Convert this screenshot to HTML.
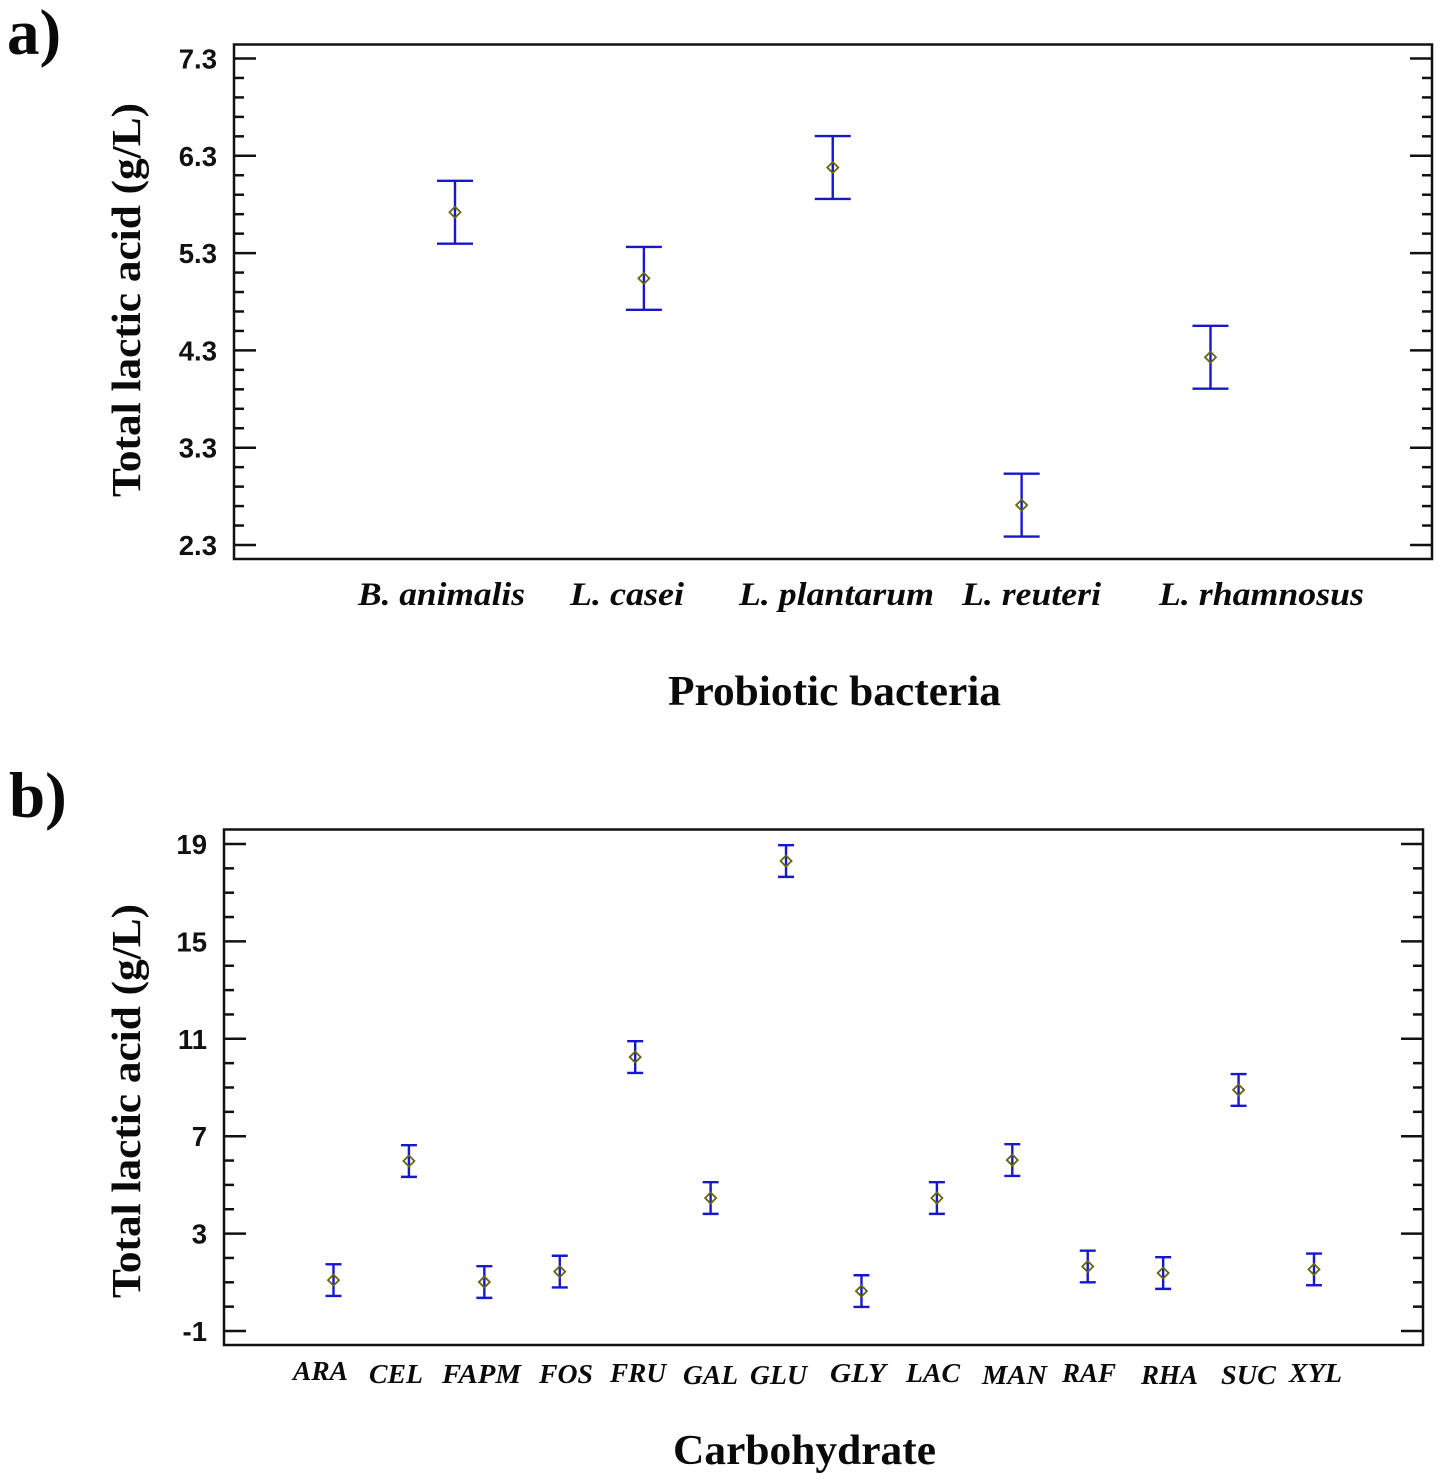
<!DOCTYPE html>
<html lang="en">
<head>
<meta charset="utf-8">
<title>Total lactic acid by probiotic bacteria and carbohydrate</title>
<style>
html,body{margin:0;padding:0;background:#fff;}
svg{display:block;}
.ser{font-family:"Liberation Serif",serif;font-weight:bold;fill:#0a0a0a;}
.ital{font-style:italic;}
.tick{font-family:"Liberation Sans",sans-serif;font-weight:bold;font-size:27.5px;fill:#111;text-anchor:end;}
</style>
</head>
<body>
<svg id="figure" xmlns="http://www.w3.org/2000/svg" width="1441" height="1482" viewBox="0 0 1441 1482">
  <rect x="0" y="0" width="1441" height="1482" fill="#fff"/>

  <text class="ser" x="7" y="54" font-size="65">a)</text>
  <text class="ser" x="9" y="817" font-size="65">b)</text>

  <rect x="234" y="44.5" width="1198" height="514.5" fill="none" stroke="#111" stroke-width="2.5"/>
  <rect x="224" y="829.5" width="1199" height="515.5" fill="none" stroke="#111" stroke-width="2.5"/>

  <g id="panel-a-marks"></g>
  <g id="panel-b-marks"></g>

  <text class="ser" transform="translate(140 300) rotate(-90)" text-anchor="middle" font-size="41" textLength="394" lengthAdjust="spacingAndGlyphs">Total lactic acid (g/L)</text>
  <text class="ser" transform="translate(140 1101) rotate(-90)" text-anchor="middle" font-size="41" textLength="394" lengthAdjust="spacingAndGlyphs">Total lactic acid (g/L)</text>

  <text class="ser" x="668" y="705" font-size="42" textLength="333" lengthAdjust="spacingAndGlyphs">Probiotic bacteria</text>
  <text class="ser" x="673" y="1464" font-size="42" textLength="263" lengthAdjust="spacingAndGlyphs">Carbohydrate</text>

  <g class="ser ital" font-size="33">
    <text x="358" y="605" textLength="167" lengthAdjust="spacingAndGlyphs">B. animalis</text>
    <text x="570" y="605" textLength="114" lengthAdjust="spacingAndGlyphs">L. casei</text>
    <text x="739" y="605" textLength="195" lengthAdjust="spacingAndGlyphs">L. plantarum</text>
    <text x="962" y="605" textLength="139" lengthAdjust="spacingAndGlyphs">L. reuteri</text>
    <text x="1159" y="605" textLength="205" lengthAdjust="spacingAndGlyphs">L. rhamnosus</text>
  </g>

  <g class="ser ital" font-size="27">
    <text x="293" y="1380" textLength="55" lengthAdjust="spacingAndGlyphs">ARA</text>
    <text x="369" y="1383" textLength="54" lengthAdjust="spacingAndGlyphs">CEL</text>
    <text x="442" y="1383" textLength="79" lengthAdjust="spacingAndGlyphs">FAPM</text>
    <text x="539" y="1383" textLength="54" lengthAdjust="spacingAndGlyphs">FOS</text>
    <text x="610" y="1382" textLength="56" lengthAdjust="spacingAndGlyphs">FRU</text>
    <text x="683" y="1384" textLength="55" lengthAdjust="spacingAndGlyphs">GAL</text>
    <text x="750" y="1384" textLength="57" lengthAdjust="spacingAndGlyphs">GLU</text>
    <text x="830" y="1382" textLength="56" lengthAdjust="spacingAndGlyphs">GLY</text>
    <text x="906" y="1382" textLength="54" lengthAdjust="spacingAndGlyphs">LAC</text>
    <text x="982" y="1384" textLength="65" lengthAdjust="spacingAndGlyphs">MAN</text>
    <text x="1062" y="1382" textLength="54" lengthAdjust="spacingAndGlyphs">RAF</text>
    <text x="1141" y="1384" textLength="57" lengthAdjust="spacingAndGlyphs">RHA</text>
    <text x="1221" y="1384" textLength="55" lengthAdjust="spacingAndGlyphs">SUC</text>
    <text x="1289" y="1382" textLength="53" lengthAdjust="spacingAndGlyphs">XYL</text>
  </g>
</svg>

<script>
// Panel a data
const bacteriaCategories = ["B. animalis", "L. casei", "L. plantarum", "L. reuteri", "L. rhamnosus"];
const bacteriaMeans = [5.72, 5.04, 6.18, 2.71, 4.23];
const bacteriaErrors = [0.323, 0.323, 0.323, 0.323, 0.323];
const bacteriaTicks = ["7.3", "6.3", "5.3", "4.3", "3.3", "2.3"];

// Panel b data
const carbCategories = ["ARA", "CEL", "FAPM", "FOS", "FRU", "GAL", "GLU", "GLY", "LAC", "MAN", "RAF", "RHA", "SUC", "XYL"];
const carbMeans = [1.09, 5.98, 1.01, 1.44, 10.25, 4.46, 18.30, 0.64, 4.46, 6.02, 1.65, 1.38, 8.90, 1.53];
const carbErrors = [0.65, 0.65, 0.65, 0.65, 0.65, 0.65, 0.65, 0.65, 0.65, 0.65, 0.65, 0.65, 0.65, 0.65];
const carbTicks = ["19", "15", "11", "7", "3", "-1"];

const NS = "http://www.w3.org/2000/svg";
const INK = "#111";
const BLUE = "#1717cf";
const OLIVE = "#66660a";

function make(parent, tag, attrs) {
  const el = document.createElementNS(NS, tag);
  for (const k in attrs) el.setAttribute(k, attrs[k]);
  parent.appendChild(el);
  return el;
}

function linearScale(d0, d1, r0, r1) {
  return function (v) { return r0 + (v - d0) * (r1 - r0) / (d1 - d0); };
}

function drawPanel(cfg) {
  const root = document.getElementById(cfg.id);
  const y = cfg.y;
  const x = cfg.x;
  const ticks = cfg.ticks.map(Number);

  ticks.forEach(function (t, i) {
    const py = y(t);
    const left = make(root, "line", { x1: cfg.left, x2: cfg.left + 22, y1: py, y2: py, stroke: INK, "stroke-width": 2.5 });
    
    
    const right = make(root, "line", { x1: cfg.right - 22, x2: cfg.right, y1: py, y2: py, stroke: INK, "stroke-width": 2.5 });
    
    
    const label = make(root, "text", { class: "tick", x: cfg.labelRight, y: py + 10 });
    label.textContent = cfg.ticks[i];
    
    

    if (i < ticks.length - 1) {
      const step = (ticks[i + 1] - t) / (cfg.minorCount + 1);
      for (let m = 1; m <= cfg.minorCount; m++) {
        const my = y(t + step * m);
        const minorLeft = make(root, "line", { x1: cfg.left, x2: cfg.left + 10, y1: my, y2: my, stroke: INK, "stroke-width": 2.5 });
        
        
        const minorRight = make(root, "line", { x1: cfg.right - 10, x2: cfg.right, y1: my, y2: my, stroke: INK, "stroke-width": 2.5 });
        
        
      }
    }
  });

  cfg.categories.forEach(function (cat, i) {
    const px = x(i);
    const mean = cfg.means[i];
    const err = cfg.errors[i];
    const group = make(root, "g", {});
    
    
    make(group, "line", { x1: px, x2: px, y1: y(mean + err), y2: y(mean - err), stroke: BLUE, "stroke-width": 2.4 });
    make(group, "line", { x1: px - cfg.cap, x2: px + cfg.cap, y1: y(mean + err), y2: y(mean + err), stroke: BLUE, "stroke-width": 2.4 });
    make(group, "line", { x1: px - cfg.cap, x2: px + cfg.cap, y1: y(mean - err), y2: y(mean - err), stroke: BLUE, "stroke-width": 2.4 });
    const py = y(mean);
    make(group, "polygon", {
      points: (px - 5.5) + "," + py + " " + px + "," + (py - 5.5) + " " + (px + 5.5) + "," + py + " " + px + "," + (py + 5.5),
      fill: "none", stroke: OLIVE, "stroke-width": 1.8
    });
  });
}

drawPanel({
  id: "panel-a-marks",
  categories: bacteriaCategories,
  means: bacteriaMeans,
  errors: bacteriaErrors,
  ticks: bacteriaTicks,
  minorCount: 4,
  left: 234,
  right: 1432,
  labelRight: 217,
  cap: 18,
  x: linearScale(0, 4, 455, 1210.5),
  y: linearScale(7.3, 2.3, 58.5, 545)
});

drawPanel({
  id: "panel-b-marks",
  categories: carbCategories,
  means: carbMeans,
  errors: carbErrors,
  ticks: carbTicks,
  minorCount: 3,
  left: 224,
  right: 1423,
  labelRight: 207,
  cap: 8,
  x: linearScale(0, 13, 333.5, 1314),
  y: linearScale(19, -1, 844, 1331)
});
</script>
</body>
</html>
